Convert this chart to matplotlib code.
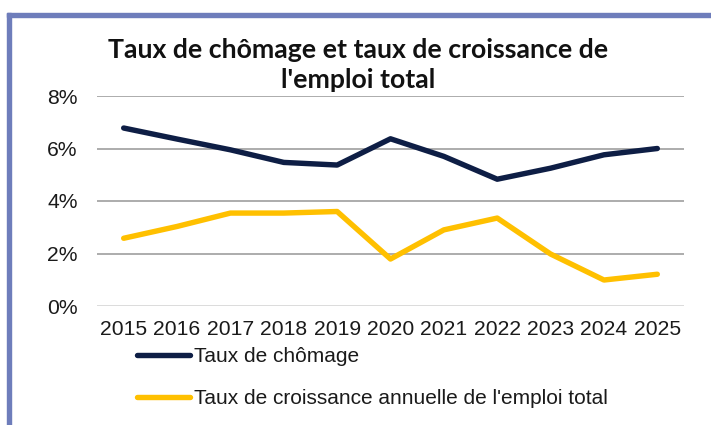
import matplotlib
matplotlib.use("Agg")
import matplotlib.pyplot as plt
from matplotlib.patches import Rectangle
from matplotlib.ticker import FuncFormatter

years = [2015, 2016, 2017, 2018, 2019, 2020, 2021, 2022, 2023, 2024, 2025]
chomage = [6.78, 6.36, 5.95, 5.47, 5.37, 6.37, 5.70, 4.83, 5.25, 5.76, 6.00]
emploi = [2.58, 3.03, 3.54, 3.54, 3.60, 1.79, 2.90, 3.35, 1.98, 0.99, 1.21]
labels = ["Taux de chômage", "Taux de croissance annuelle de l'emploi total"]
title = "Taux de chômage et taux de croissance de\nl'emploi total"
yticks = [0, 2, 4, 6, 8]

font = ['Liberation Sans', 'DejaVu Sans']

fig = plt.figure(figsize=(7.11, 4.25), dpi=100)
W, H = 711, 425

# border
border_col = '#6E7DBB'
fig.patches.append(Rectangle((7 / W, 0), 4 / W, (H - 13) / H, transform=fig.transFigure,
                             color=border_col, zorder=0))
fig.patches.append(Rectangle((7 / W, (H - 17) / H), (W - 7) / W, 4 / H, transform=fig.transFigure,
                             color=border_col, zorder=0))

ax = fig.add_axes([97 / W, 1 - 306 / H, (684 - 97) / W, (306 - 96) / H])
ax.plot(years, chomage, color='#0E1E45', lw=3.9, solid_capstyle='round', solid_joinstyle='round', label=labels[0])
ax.plot(years, emploi, color='#FFC000', lw=3.9, solid_capstyle='round', solid_joinstyle='round', label=labels[1])

ax.set_xlim(2014.5, 2025.5)
ax.set_ylim(0, 8)
ax.set_yticks(yticks)
ax.yaxis.set_major_formatter(FuncFormatter(lambda v, p: f"{v:.0f}%"))
ax.set_xticks(years)
ax.set_xticklabels([str(y) for y in years])
for s in ax.spines.values():
    s.set_visible(False)
ax.tick_params(length=0)
ax.tick_params(axis='x', pad=10)
ax.tick_params(axis='y', pad=14)
for lab in ax.get_xticklabels() + ax.get_yticklabels():
    lab.set_family(font)
    lab.set_fontsize(15.2)
    lab.set_color('#1a1a1a')
for y in yticks:
    ax.axhline(y, color='#D9D9D9' if y == 0 else '#A6A6A6', lw=1.3, zorder=0)

fig.text(358 / W, 1 - 65 / H, title, ha='center', va='center', fontsize=19.2,
         fontweight='bold', family=['Lato', 'DejaVu Sans'], linespacing=1.33, color='#111111')

leg = ax.legend(loc='upper left', bbox_to_anchor=(137 / W, 1 - 347 / H), bbox_transform=fig.transFigure,
                borderaxespad=0, borderpad=0,
                frameon=False, handlelength=2.55, handletextpad=0.2, labelspacing=1.1,
                prop={'family': font, 'size': 15})
for t in leg.get_texts():
    t.set_color('#1a1a1a')

fig.savefig('out.png', dpi=100)
